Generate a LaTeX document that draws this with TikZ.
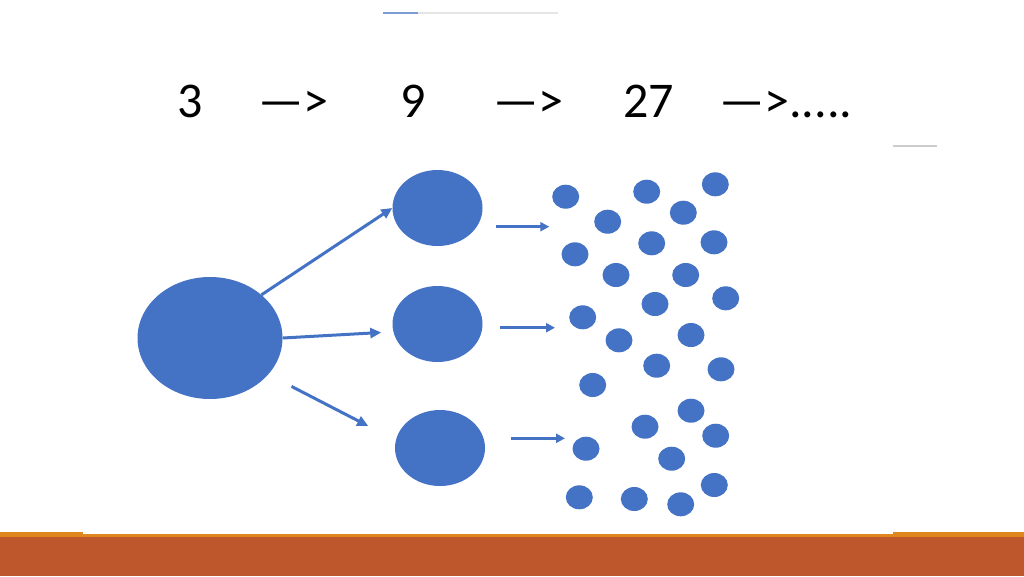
\documentclass[tikz,border=0pt]{standalone}
\usepackage{fontspec}
\setmainfont{Carlito}
\usepackage{tikz}
\usetikzlibrary{arrows.meta,shapes.geometric,positioning}

\definecolor{cellblue}{HTML}{4472C4}
\definecolor{barbrown}{HTML}{BE582C}
\definecolor{barorange}{HTML}{E0861E}

\begin{document}
\begin{tikzpicture}[x=1pt,y=-1pt,>={Triangle[length=11pt,width=10pt]},
                    spread/.style={->,line width=3pt,draw=cellblue},
                    sprout/.style={->,line width=3pt,draw=cellblue,>={Triangle[length=9pt,width=9pt]}}]
  \tikzset{cell/.style={ellipse,fill=cellblue,draw=none,inner sep=0pt},
           mother/.style={cell,minimum width=145pt,minimum height=122pt},
           child/.style={cell,minimum width=90pt,minimum height=76pt},
           spore/.style={cell,minimum width=27pt,minimum height=24pt},
           count/.style={anchor=base west,inner sep=0pt,font=\fontsize{50}{60}\selectfont}}

  \useasboundingbox (0,0) rectangle (1024,576);
  \fill[white] (0,0) rectangle (1024,576);

  % slide decorations
  \draw[cellblue!70,line width=1.5pt] (383,13) -- (418,13);
  \draw[gray!20,line width=1.5pt] (418,13) -- (558,13);
  \draw[gray!40,line width=1.5pt] (893,146) -- (937,146);
  \fill[barorange] (0,531.5) rectangle (1024,537);
  \fill[white] (83,520) rectangle (893,533.5);
  \fill[barbrown] (0,537) rectangle (1024,576);

  % the sequence
  \node[count] (n3)  at (177,117) {3};
  \node[count] (a1)  at (258,117) {—>};
  \node[count] (n9)  at (400,117) {9};
  \node[count] (a2)  at (493,117) {—>};
  \node[count] (n27) at (623,117) {27};
  \node[count] (a3)  at (719,117) {—>.....};

  % cells
  \node[mother] (big) at (210,338) {};
  \node[child]  (top) at (437.5,208) {};
  \node[child]  (mid) at (437.5,324) {};
  \node[child]  (bot) at (440,448) {};

  \foreach \x/\y [count=\i] in {565.7/196.7, 646.7/191.7, 715.3/184.3, 607.7/221.7,
      683.3/212.7, 575/254.3, 651.7/243.3, 714/242.3, 616/275, 685.7/275,
      725.7/298.3, 655/304, 582.7/317.3, 619/340.3, 691/335, 656.7/365.7,
      721/369.3, 592.7/385, 645/426.7, 691/410.7, 715.7/435.7, 586/448.7,
      671.7/458.7, 579.3/497.3, 634.3/499, 680.7/504.3, 714.3/485}
    \node[spore] (p\i) at (\x,\y) {};

  % first split
  \draw[spread] (big.40) -- (top.west);
  \draw[spread,shorten >=12pt] (big.east) -- (mid.190);
  \draw[spread,shorten <=26pt,shorten >=31pt] (big.-32) -- (bot.170);

  % second split
  \coordinate (s1) at (549.3,226.7);
  \coordinate (s2) at (555,327.7);
  \coordinate (s3) at (565,438.3);
  \draw[sprout,shorten <=13pt] (top.east |- s1) -- (s1);
  \draw[sprout,shorten <=17pt] (mid.east |- s2) -- (s2);
  \draw[sprout,shorten <=26pt] (bot.east |- s3) -- (s3);
\end{tikzpicture}
\end{document}
